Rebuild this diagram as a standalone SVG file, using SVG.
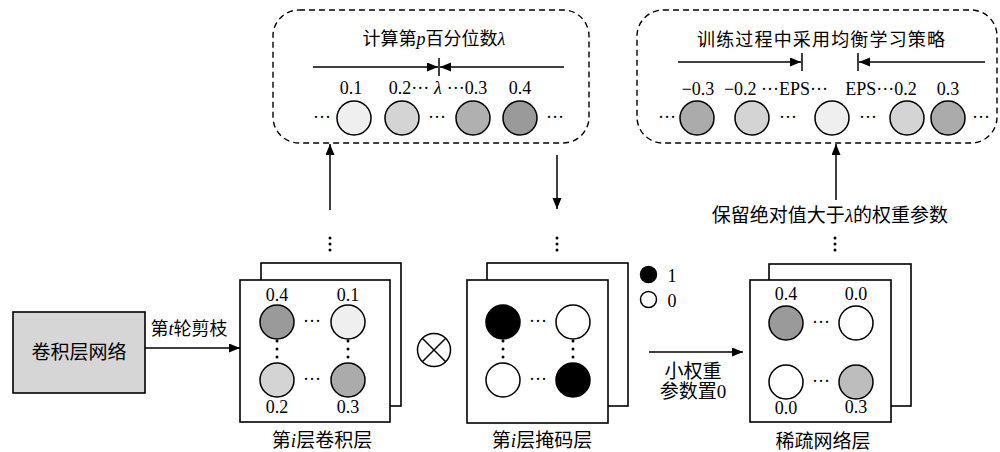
<svg xmlns="http://www.w3.org/2000/svg" width="1000" height="452" viewBox="0 0 1000 452">
<defs>
<marker id="ah" markerUnits="userSpaceOnUse" markerWidth="12" markerHeight="10" refX="11" refY="4.5" orient="auto"><path d="M0,0 L11,4.5 L0,9 z" fill="#000"/></marker>
<style>
.cjk{font-family:"Liberation Serif","Noto Sans CJK SC",serif;fill:#000}
.num{font-family:"Liberation Serif",serif;font-size:18px;fill:#000;text-anchor:middle}
.ln{stroke:#000;stroke-width:1.5;fill:none}
.arr{stroke:#000;stroke-width:1.5;fill:none;marker-end:url(#ah)}
.dash{stroke:#000;stroke-width:1.4;fill:none;stroke-dasharray:6 4}
.sq{stroke:#000;stroke-width:1.6;fill:#fff}
.c{stroke:#000;stroke-width:1.5}
.vd{fill:#000}
</style>
</defs>
<rect width="1000" height="452" fill="#fff"/>

<g id="connectors">
<line class="arr" x1="145" y1="348" x2="240" y2="348"/>
<line class="arr" x1="330" y1="210" x2="330" y2="144"/>
<line class="arr" x1="557" y1="155" x2="557" y2="209"/>
<line class="arr" x1="836" y1="200" x2="836" y2="144"/>
<line class="arr" x1="649" y1="352" x2="743" y2="352"/>
</g>

<g id="conv-net">
<rect x="13" y="312" width="132" height="81" fill="#d6d6d6" stroke="#000" stroke-width="1.6"/>
<text class="cjk" x="79" y="359" font-size="19" text-anchor="middle">卷积层网络</text>
</g>
<text class="cjk" x="189" y="335" font-size="18" text-anchor="middle">第<tspan font-style="italic">t</tspan>轮剪枝</text>

<g id="percentile-box">
<rect class="dash" x="273" y="10" width="316" height="133" rx="26"/>
<text class="cjk" x="434" y="45" font-size="18" text-anchor="middle">计算第<tspan font-style="italic">p</tspan>百分位数<tspan font-style="italic">λ</tspan></text>
<line class="arr" x1="313" y1="67" x2="438" y2="67"/>
<line class="arr" x1="564" y1="67" x2="440" y2="67"/>
<line class="ln" x1="439" y1="58" x2="439" y2="76"/>
<text class="num" y="94"><tspan x="351">0.1</tspan><tspan x="409">0.2···</tspan><tspan x="438" font-style="italic">λ</tspan><tspan x="467">···0.3</tspan><tspan x="520">0.4</tspan></text>
<circle class="c" cx="354" cy="118" r="17" fill="#efefef"/>
<circle class="c" cx="402" cy="118" r="17" fill="#d4d4d4"/>
<circle class="c" cx="473" cy="118" r="17" fill="#b0b0b0"/>
<circle class="c" cx="520" cy="118" r="17" fill="#9a9a9a"/>
<text class="num" y="123"><tspan x="322">···</tspan><tspan x="437">···</tspan><tspan x="555">···</tspan></text>
</g>

<g id="balanced-box">
<rect class="dash" x="637" y="10" width="360" height="133" rx="26"/>
<text class="cjk" x="821" y="46" font-size="18" text-anchor="middle" textLength="248" lengthAdjust="spacing">训练过程中采用均衡学习策略</text>
<line class="arr" x1="678" y1="62" x2="801" y2="62"/>
<line class="ln" x1="802" y1="53" x2="802" y2="71"/>
<line class="arr" x1="985" y1="62" x2="859" y2="62"/>
<line class="ln" x1="858" y1="53" x2="858" y2="71"/>
<text class="num" y="95"><tspan x="698">−0.3</tspan><tspan x="776">−0.2 ···EPS···</tspan><tspan x="881">EPS···0.2</tspan><tspan x="948">0.3</tspan></text>
<circle class="c" cx="697" cy="118" r="17" fill="#ababab"/>
<circle class="c" cx="752" cy="118" r="17" fill="#d4d4d4"/>
<circle class="c" cx="832" cy="118" r="17" fill="#efefef"/>
<circle class="c" cx="907" cy="118" r="17" fill="#d4d4d4"/>
<circle class="c" cx="948" cy="118" r="17" fill="#ababab"/>
<text class="num" y="123"><tspan x="667">···</tspan><tspan x="788">···</tspan><tspan x="868">···</tspan><tspan x="981">···</tspan></text>
</g>

<g id="conv-layer">
<g class="vd"><circle cx="330" cy="238" r="1.5"/><circle cx="330" cy="244" r="1.5"/><circle cx="330" cy="250" r="1.5"/></g>
<rect class="sq" x="261" y="263" width="140" height="143"/>
<rect class="sq" x="240" y="280" width="150" height="142"/>
<text class="num" x="277" y="301">0.4</text>
<text class="num" x="348" y="301">0.1</text>
<circle class="c" cx="277" cy="322" r="17" fill="#9a9a9a"/>
<circle class="c" cx="348" cy="322" r="17" fill="#efefef"/>
<circle class="c" cx="277" cy="380" r="17" fill="#d4d4d4"/>
<circle class="c" cx="348" cy="380" r="17" fill="#ababab"/>
<text class="num" x="312" y="327">···</text>
<text class="num" x="312" y="385">···</text>
<g class="vd"><circle cx="277" cy="341" r="1.5"/><circle cx="277" cy="349" r="1.5"/><circle cx="277" cy="357" r="1.5"/><circle cx="348" cy="341" r="1.5"/><circle cx="348" cy="349" r="1.5"/><circle cx="348" cy="357" r="1.5"/></g>
<text class="num" x="277" y="413">0.2</text>
<text class="num" x="348" y="413">0.3</text>
<text class="cjk" x="322" y="447" font-size="19" text-anchor="middle">第<tspan font-style="italic">i</tspan>层卷积层</text>
</g>

<g id="multiply">
<circle cx="434" cy="350" r="16.5" fill="#fff" stroke="#000" stroke-width="1.5"/>
<line class="ln" x1="422.3" y1="338.3" x2="445.7" y2="361.7"/>
<line class="ln" x1="445.7" y1="338.3" x2="422.3" y2="361.7"/>
</g>

<g id="mask-layer">
<g class="vd"><circle cx="557" cy="238" r="1.5"/><circle cx="557" cy="244" r="1.5"/><circle cx="557" cy="250" r="1.5"/></g>
<rect class="sq" x="487" y="263" width="141" height="143"/>
<rect class="sq" x="467" y="280" width="141" height="143"/>
<circle class="c" cx="503" cy="322" r="17" fill="#000"/>
<circle class="c" cx="573" cy="322" r="17" fill="#fff"/>
<circle class="c" cx="503" cy="380" r="17" fill="#fff"/>
<circle class="c" cx="573" cy="380" r="17" fill="#000"/>
<text class="num" x="538" y="327">···</text>
<text class="num" x="538" y="385">···</text>
<g class="vd"><circle cx="503" cy="341" r="1.5"/><circle cx="503" cy="349" r="1.5"/><circle cx="503" cy="357" r="1.5"/><circle cx="573" cy="341" r="1.5"/><circle cx="573" cy="349" r="1.5"/><circle cx="573" cy="357" r="1.5"/></g>
<text class="cjk" x="542" y="447" font-size="19" text-anchor="middle">第<tspan font-style="italic">i</tspan>层掩码层</text>
</g>

<g id="legend">
<circle cx="648.5" cy="274.5" r="8" fill="#000" stroke="#000" stroke-width="1.5"/>
<text class="num" x="672" y="282">1</text>
<circle cx="648.5" cy="299.5" r="8" fill="#fff" stroke="#000" stroke-width="1.5"/>
<text class="num" x="672" y="307">0</text>
</g>

<text class="cjk" x="693" y="378" font-size="19" text-anchor="middle">小权重</text>
<text class="cjk" x="693" y="398" font-size="19" text-anchor="middle">参数置0</text>

<text class="cjk" x="830" y="222" font-size="19" text-anchor="middle">保留绝对值大于<tspan font-style="italic">λ</tspan>的权重参数</text>

<g id="sparse-layer">
<g class="vd"><circle cx="835" cy="238" r="1.5"/><circle cx="835" cy="244" r="1.5"/><circle cx="835" cy="250" r="1.5"/></g>
<rect class="sq" x="769" y="264" width="142" height="142"/>
<rect class="sq" x="750" y="280" width="141" height="142"/>
<text class="num" x="786" y="300">0.4</text>
<text class="num" x="856" y="300">0.0</text>
<circle class="c" cx="786" cy="323" r="17" fill="#9a9a9a"/>
<circle class="c" cx="856" cy="323" r="17" fill="#fff"/>
<circle class="c" cx="786" cy="382" r="17" fill="#fff"/>
<circle class="c" cx="856" cy="382" r="17" fill="#bdbdbd"/>
<text class="num" x="821" y="328">···</text>
<text class="num" x="821" y="387">···</text>
<text class="num" x="786" y="414">0.0</text>
<text class="num" x="856" y="413">0.3</text>
<text class="cjk" x="823" y="448" font-size="19" text-anchor="middle">稀疏网络层</text>
</g>
</svg>
